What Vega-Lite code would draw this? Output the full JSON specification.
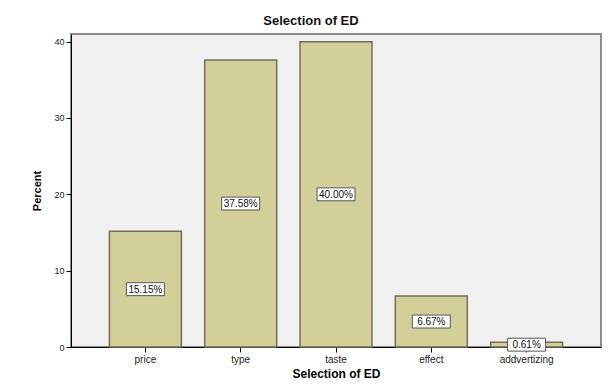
{
  "$schema": "https://vega.github.io/schema/vega-lite/v6.json",
  "width": 530,
  "height": 313,
  "autosize": {"type": "none"},
  "padding": {"left": 71, "top": 34, "right": 9, "bottom": 44},
  "background": "white",
  "title": {
    "text": "Selection of ED",
    "font": "Liberation Sans",
    "fontSize": 13,
    "fontWeight": "bold",
    "color": "#111111",
    "anchor": "middle",
    "dx": -25,
    "offset": 6
  },
  "config": {
    "view": {"fill": "#f0f0f0", "stroke": "#8c8c8c", "strokeWidth": 2},
    "font": "Liberation Sans",
    "axis": {"grid": false, "domainColor": "#000000", "tickColor": "#000000", "labelColor": "#222222", "titleColor": "#000000", "labelFont": "Liberation Sans", "titleFont": "Liberation Sans"}
  },
  "data": {
    "values": [
      {"choice": "price", "percent": 15.15, "label": "15.15%"},
      {"choice": "type", "percent": 37.58, "label": "37.58%"},
      {"choice": "taste", "percent": 40.00, "label": "40.00%"},
      {"choice": "effect", "percent": 6.67, "label": "6.67%"},
      {"choice": "addvertizing", "percent": 0.61, "label": "0.61%"}
    ]
  },
  "encoding": {
    "x": {
      "field": "choice",
      "type": "nominal",
      "sort": null,
      "scale": {"paddingInner": 0.245, "paddingOuter": 0.403},
      "axis": {
        "title": "Selection of ED",
        "titleFontSize": 12,
        "titleFontWeight": "bold",
        "titlePadding": 4,
        "labelAngle": 0,
        "labelFontSize": 10,
        "labelPadding": 2,
        "tickSize": 5
      }
    }
  },
  "layer": [
    {
      "mark": {"type": "bar", "fill": "#d3cf99", "stroke": "#6f6d5c", "strokeWidth": 1.5},
      "encoding": {
        "y": {
          "field": "percent",
          "type": "quantitative",
          "scale": {"domain": [0, 41], "nice": false},
          "axis": {
            "title": "Percent",
            "titleFontSize": 11,
            "titleFontWeight": "bold",
            "titlePadding": 11,
            "values": [0, 10, 20, 30, 40],
            "labelFontSize": 9,
            "labelPadding": 2,
            "tickSize": 5
          }
        }
      }
    },
    {
      "transform": [{"calculate": "datum.percent / 2", "as": "mid"}],
      "mark": {"type": "point", "shape": "M-1,-0.34L1,-0.34L1,0.34L-1,0.34Z", "filled": true, "fill": "white", "stroke": "#555555", "strokeWidth": 1, "opacity": 1, "size": 1444},
      "encoding": {
        "y": {"field": "mid", "type": "quantitative", "scale": {"domain": [0, 41], "nice": false}}
      }
    },
    {
      "transform": [{"calculate": "datum.percent / 2", "as": "mid"}],
      "mark": {"type": "text", "font": "Liberation Sans", "fontSize": 10, "color": "#111111", "baseline": "middle", "dy": 0.5},
      "encoding": {
        "y": {"field": "mid", "type": "quantitative", "scale": {"domain": [0, 41], "nice": false}},
        "text": {"field": "label"}
      }
    }
  ]
}
